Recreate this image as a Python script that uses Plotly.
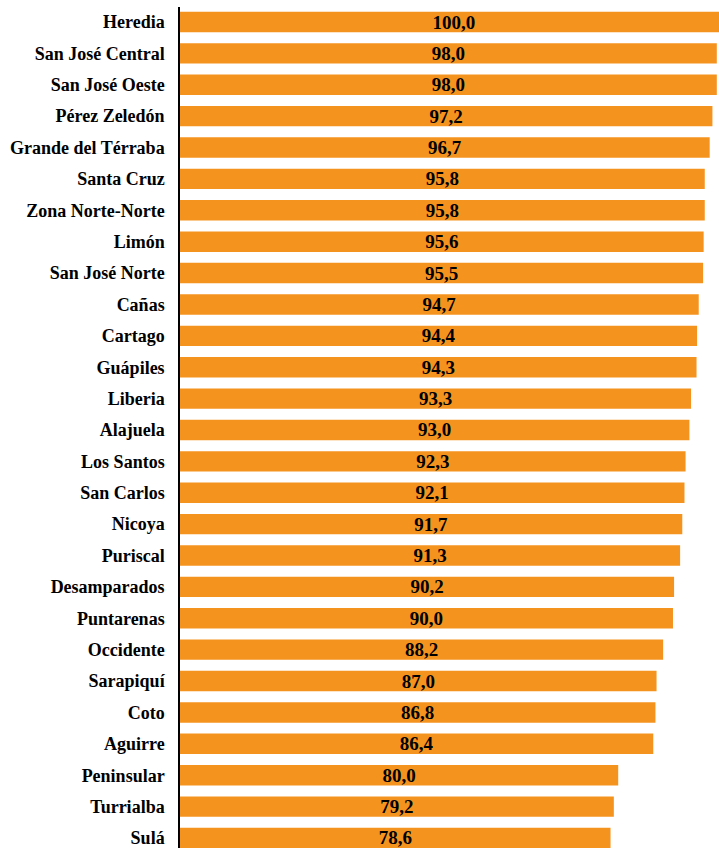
import plotly.graph_objects as go

categories = ["Heredia", "San José Central", "San José Oeste", "Pérez Zeledón",
              "Grande del Térraba", "Santa Cruz", "Zona Norte-Norte", "Limón",
              "San José Norte", "Cañas", "Cartago", "Guápiles", "Liberia",
              "Alajuela", "Los Santos", "San Carlos", "Nicoya", "Puriscal",
              "Desamparados", "Puntarenas", "Occidente", "Sarapiquí", "Coto",
              "Aguirre", "Peninsular", "Turrialba", "Sulá"]
values = [100.0, 98.0, 98.0, 97.2, 96.7, 95.8, 95.8, 95.6, 95.5, 94.7, 94.4,
          94.3, 93.3, 93.0, 92.3, 92.1, 91.7, 91.3, 90.2, 90.0, 88.2, 87.0,
          86.8, 86.4, 80.0, 79.2, 78.6]
labels = [f"{v:.1f}".replace(".", ",") for v in values]

font_family = "Liberation Serif, Times New Roman, serif"

fig = go.Figure(go.Bar(
    x=values, y=categories, orientation="h",
    marker=dict(color="#F5931F", line=dict(width=0)),
    text=labels, textposition="inside", insidetextanchor="middle",
    textangle=0,
    textfont=dict(family=font_family, size=19, color="black", weight="bold"),
    cliponaxis=True,
))

fig.update_layout(
    width=719, height=848,
    margin=dict(l=180, r=0, t=7, b=0),
    paper_bgcolor="white", plot_bgcolor="white",
    bargap=0.35,
    showlegend=False,
    uniformtext=dict(minsize=19, mode="show"),
)
fig.update_xaxes(range=[0, 98.4], showgrid=False, zeroline=False,
                 showticklabels=False, showline=False)
fig.update_yaxes(type="category", range=[26.32, -0.478], showgrid=False,
                 showline=True, linecolor="black", linewidth=1.5,
                 ticks="", ticklabelstandoff=10,
                 tickfont=dict(family=font_family, size=18, color="black",
                               weight="bold"))

fig.write_html("out.html",
               config={"displayModeBar": False},
               post_script="document.body.style.margin='0';"
                           "document.body.style.overflow='hidden';")
